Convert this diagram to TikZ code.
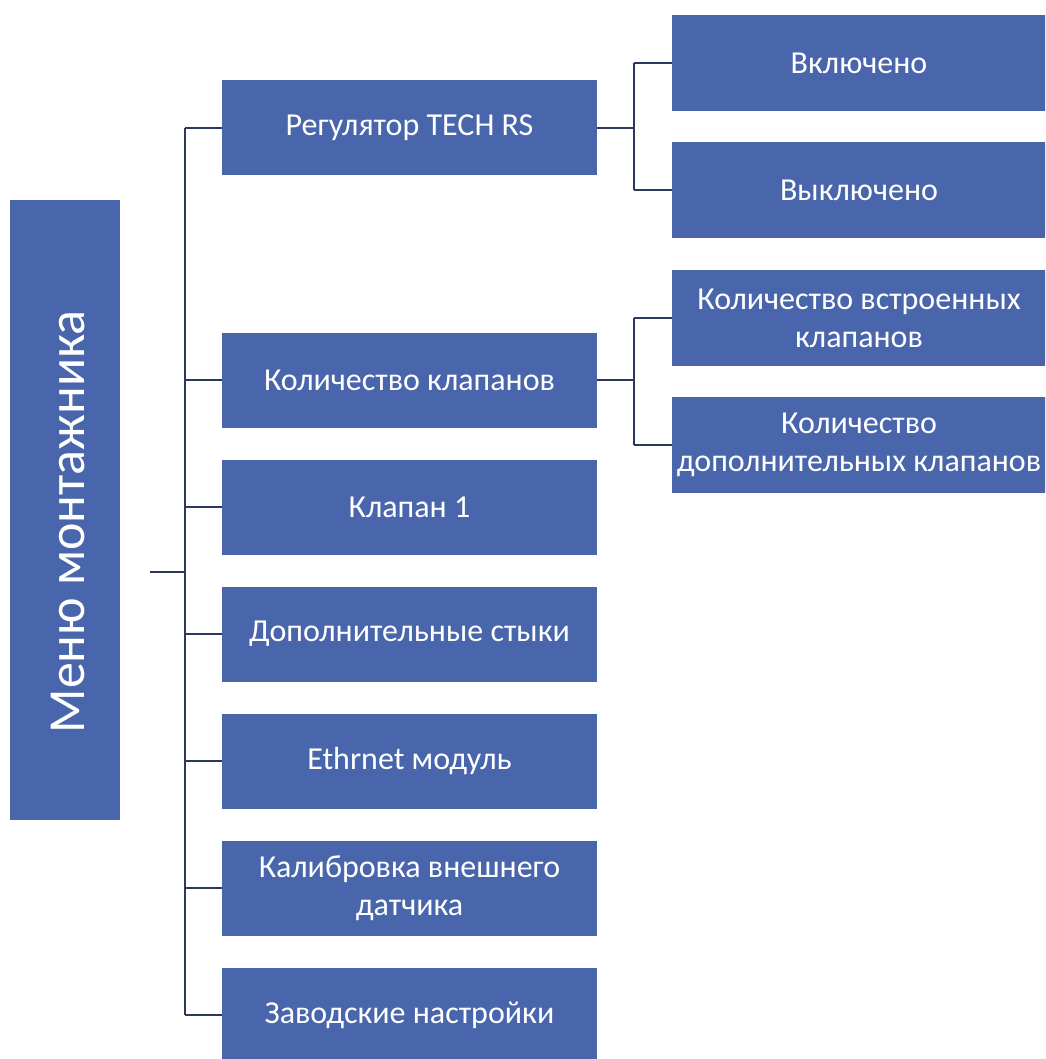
\documentclass[tikz,border=0pt]{standalone}
\usepackage{fontspec}
\setmainfont{Carlito}
\definecolor{boxblue}{RGB}{73,102,172}
\definecolor{linecol}{RGB}{45,56,92}
\begin{document}
\begin{tikzpicture}[x=1pt,y=-1pt,
  box/.style={fill=boxblue, draw=none, text=white, align=center, inner sep=0pt, font=\fontsize{32}{38}\selectfont},
  lvlone/.style={box, minimum width=375pt, minimum height=95pt},
  lvltwo/.style={box, minimum width=374pt, minimum height=96pt},
  conn/.style={draw=linecol, line width=2.4pt}]
\useasboundingbox (0,0) rectangle (1045,1059);
\fill[white] (0,0) rectangle (1045,1059);
\begin{scope}
\clip (0,0) rectangle (1045,1059);
% root
\node[box, minimum width=110pt, minimum height=620pt] (root) at (65,510) {};
\node[text=white, rotate=90, font=\fontsize{52}{56}\selectfont, inner sep=0pt] (roottext) at ([shift={(3,12)}]root.center) {Меню монтажника};
% level 1
\node[lvlone] (reg) at (409.5,128) {Регулятор TECH RS};
\node[lvlone] (kol) at (409.5,380) {Количество клапанов};
\node[lvlone] (kl1) at (409.5,507) {Клапан 1};
\node[lvlone] (dop) at (409.5,634) {Дополнительные стыки};
\node[lvlone] (eth) at (409.5,761) {Ethrnet модуль};
\node[lvlone] (kal) at (409.5,888) {Калибровка внешнего\\датчика};
\node[lvlone] (zav) at (409.5,1015) {Заводские настройки};
% level 2
\node[lvltwo] (on) at (859,63) {Включено};
\node[lvltwo] (off) at (859,190) {Выключено};
\node[lvltwo] (vstr) at (859,318) {Количество встроенных\\клапанов};
\node[lvltwo] (dkl) at (859,445) {Количество\\дополнительных клапанов};
\end{scope}
% connectors
\coordinate (rs) at (150,572);
\draw[conn] (rs) -- (185,572);
\draw[conn] (185,0 |- reg.west) -- (185,0 |- zav.west);
\foreach \n in {reg,kol,kl1,dop,eth,kal,zav}
  \draw[conn] (185,0 |- \n.west) -- (\n.west);
\draw[conn] (reg.east) -- (634,0 |- reg.east);
\draw[conn] (634,0 |- on.west) -- (634,0 |- off.west);
\draw[conn] (634,0 |- on.west) -- (on.west);
\draw[conn] (634,0 |- off.west) -- (off.west);
\draw[conn] (kol.east) -- (634,0 |- kol.east);
\draw[conn] (634,0 |- vstr.west) -- (634,0 |- dkl.west);
\draw[conn] (634,0 |- vstr.west) -- (vstr.west);
\draw[conn] (634,0 |- dkl.west) -- (dkl.west);
\end{tikzpicture}
\end{document}
